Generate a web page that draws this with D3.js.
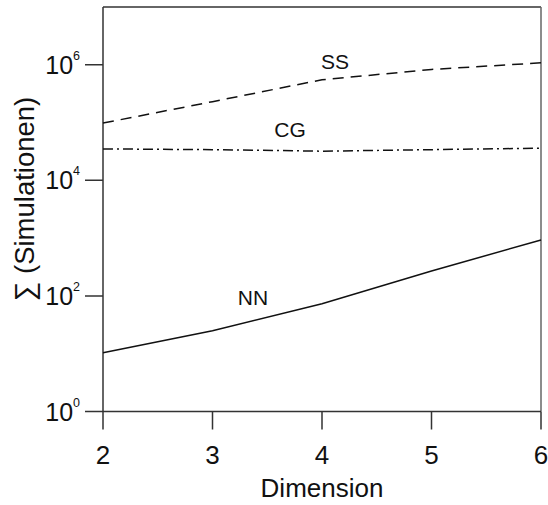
<!DOCTYPE html>
<html>
<head>
<meta charset="utf-8">
<script src="https://cdn.jsdelivr.net/npm/d3@7"></script>
<style>
  body { margin: 0; background: #fff; }
  svg text { font-family: "Liberation Sans", Arial, sans-serif; fill: #111; }
</style>
</head>
<body>
<svg id="vis-svg" width="548" height="505"></svg>
<script>
// chart data
var dims = [2, 3, 4, 5, 6];
var ssValues = [9.8e4, 2.3e5, 5.5e5, 8.3e5, 1.08e6];
var cgValues = [3.5e4, 3.4e4, 3.2e4, 3.4e4, 3.6e4];
var nnValues = [10.4, 25, 73, 270, 930];
var yTickExps = [0, 2, 4, 6];
var xTicks = [2, 3, 4, 5, 6];

var margin = { top: 7, right: 7, bottom: 93.5, left: 103 };
var width = 548, height = 505;
var plotW = width - margin.left - margin.right;
var plotH = height - margin.top - margin.bottom;

var svg = d3.select("#vis-svg");
var space = svg.append("g")
  .attr("transform", "translate(" + margin.left + "," + margin.top + ")");

var x = d3.scaleLinear().domain([2, 6]).range([0, plotW]);
var y = d3.scaleLog().domain([1, 1e7]).range([plotH, 0]);

var axisColor = "#333";
var tickLen = 18;

// frame
space.append("line").attr("x1", 0).attr("x2", plotW).attr("y1", 0).attr("y2", 0)
  .attr("stroke", axisColor).attr("stroke-width", 1.5);
space.append("line").attr("x1", plotW).attr("x2", plotW).attr("y1", 0).attr("y2", plotH)
  .attr("stroke", "#666").attr("stroke-width", 1.5);
space.append("line").attr("x1", 0).attr("x2", 0).attr("y1", 0).attr("y2", plotH)
  .attr("stroke", axisColor).attr("stroke-width", 1.5);
space.append("line").attr("x1", 0).attr("x2", plotW).attr("y1", plotH).attr("y2", plotH)
  .attr("stroke", axisColor).attr("stroke-width", 1.5);

// y ticks
var yTickPath = yTickExps.map(function(e){
  var yy = y(Math.pow(10, e));
  return "M" + (-tickLen) + "," + yy + "H0";
}).join("");
space.append("path")
  .attr("d", yTickPath)
  .attr("fill", "none")
  .attr("stroke", axisColor).attr("stroke-width", 1.5);

yTickExps.forEach(function(e){
  var t = space.append("text")
    .attr("x", -23)
    .attr("y", y(Math.pow(10, e)) + 9)
    .attr("text-anchor", "end")
    .style("font-size", "25px");
  t.append("tspan").text("10");
  t.append("tspan").attr("dy", -14).style("font-size", "12.5px").text(e);
});

// x ticks
var xTickPath = xTicks.map(function(d){
  return "M" + x(d) + "," + plotH + "V" + (plotH + tickLen);
}).join("");
space.append("path")
  .attr("d", xTickPath)
  .attr("fill", "none")
  .attr("stroke", axisColor).attr("stroke-width", 1.5);

space.selectAll(".xlabel")
  .data(xTicks)
  .enter()
  .append("text")
  .attr("class", "xlabel")
  .attr("x", function(d){ return x(d); })
  .attr("y", plotH + 52.5)
  .attr("text-anchor", "middle")
  .style("font-size", "26px")
  .text(function(d){ return d; });

// axis titles
svg.append("text")
  .attr("x", margin.left + plotW / 2)
  .attr("y", 497)
  .attr("text-anchor", "middle")
  .style("font-size", "26px")
  .text("Dimension");

svg.append("text")
  .attr("transform", "translate(34,199) rotate(-90)")
  .attr("text-anchor", "middle")
  .style("font-size", "27.5px")
  .text("\u2211 (Simulationen)");

// series lines
var line = d3.line()
  .x(function(d, i){ return x(dims[i]); })
  .y(function(d){ return y(d); });

space.append("path").datum(ssValues)
  .attr("fill", "none").attr("stroke", "#111").attr("stroke-width", 1.5)
  .attr("stroke-dasharray", "11,7")
  .attr("d", line);

space.append("path").datum(cgValues)
  .attr("fill", "none").attr("stroke", "#111").attr("stroke-width", 1.5)
  .attr("stroke-dasharray", "10,4,2,4")
  .attr("d", line);

space.append("path").datum(nnValues)
  .attr("fill", "none").attr("stroke", "#111").attr("stroke-width", 1.5)
  .attr("d", line);

// series labels
svg.append("text").attr("x", 335).attr("y", 69).attr("text-anchor", "middle")
  .style("font-size", "21px").text("SS");
svg.append("text").attr("x", 290).attr("y", 137).attr("text-anchor", "middle")
  .style("font-size", "21px").text("CG");
svg.append("text").attr("x", 253).attr("y", 305).attr("text-anchor", "middle")
  .style("font-size", "21px").text("NN");
</script>
</body>
</html>
